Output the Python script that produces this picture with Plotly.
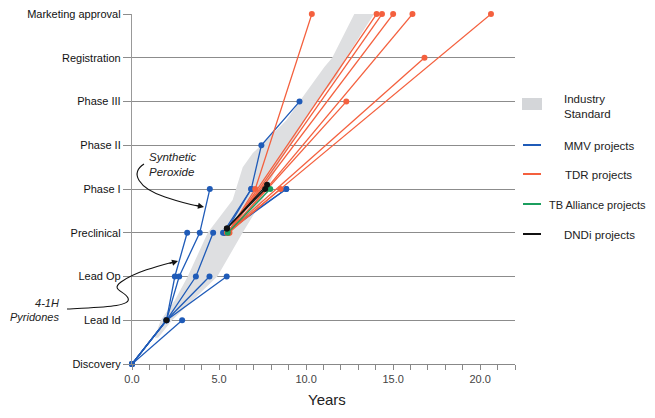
import plotly.graph_objects as go

# ---------------- data ----------------
stages = ["Discovery", "Lead Id", "Lead Op", "Preclinical", "Phase I",
          "Phase II", "Phase III", "Registration", "Marketing approval"]
x_tick_vals = list(range(0, 23))
x_tick_text = ["0.0" if v == 0 else (f"{v:.1f}" if v % 5 == 0 else "") for v in x_tick_vals]

# Industry standard band (years, stage level)
band_x = [1.3, 1.65, 2.46, 3.2, 4.35, 5.78, 6.36, 6.93, 7.9, 8.88, 9.62, 11.05, 11.5, 12.77,
          13.9, 12.3, 11.74, 10.6, 8.3, 7.5, 6.35, 4.9, 2.3, 1.5]
band_y = [0.6, 1.0, 1.46, 2.0, 3.0, 3.75, 4.5, 4.82, 5.19, 5.58, 6.0, 6.79, 7.0, 8.0,
          8.0, 7.0, 6.56, 6.0, 4.5, 3.75, 3.0, 2.0, 1.0, 0.6]

# MMV projects
mmv_x = [[0, 1.98, 2.46, 3.17],
         [0, 1.98, 2.71, 3.89, 4.47],
         [0, 1.98, 3.67, 4.66],
         [0, 1.98, 4.45],
         [0, 1.98, 5.44],
         [0, 2.88],
         [5.23, 6.85, 7.43, 9.62],
         [5.35, 6.85],
         [5.4, 8.86],
         [5.3, 8.86]]
mmv_y = [[0, 1, 2, 3],
         [0, 1, 2, 3, 4],
         [0, 1, 2, 3],
         [0, 1, 2],
         [0, 1, 2],
         [0, 1],
         [3, 4, 5, 6],
         [3, 4],
         [3, 4],
         [3, 4]]

# TDR projects
tdr_x = [[5.5, 7.08, 10.33],
         [5.55, 8.53],
         [5.5, 12.31],
         [5.45, 16.8],
         [5.5, 14.05],
         [5.55, 14.36],
         [5.5, 15.0],
         [5.6, 16.11],
         [5.5, 20.62]]
tdr_y = [[3, 4, 8],
         [3, 4],
         [3, 6],
         [3, 7],
         [3, 8],
         [3, 8],
         [3, 8],
         [3, 8],
         [3, 8]]

# TB Alliance projects
tb_x = [[5.5, 7.94]]
tb_y = [[3, 4]]

# DNDi projects
dndi_x = [[5.45, 7.65], [5.45, 7.76], [1.98]]
dndi_y = [[3.1, 4], [3.1, 4.1], [1]]

# ---------------- style ----------------
C_BLUE = "#1f5bb8"
C_RED = "#f4603e"
C_GREEN = "#1b9e5e"
C_BLACK = "#111111"
C_BAND = "#dedfe1"
C_GRID = "#8c8c8c"
FONT = "Liberation Sans, Arial, sans-serif"

# page body has an 8px margin -> figure drawn offset by (8, 8)
OFF = 8
W, H = 655 - 2 * OFF, 418 - 2 * OFF
PX0, PX1 = 132, 515      # plot area on screen (x)
PY0, PY1 = 14, 364       # plot area on screen (y)
L = PX0 - OFF
T = PY0 - OFF
R = W - (PX1 - OFF)
B = H - (PY1 - OFF)
PW, PH = PX1 - PX0, PY1 - PY0


def P(px, py):
    """screen pixel position -> paper coordinates"""
    return (px - PX0) / PW, (PY1 - py) / PH


fig = go.Figure()

fig.add_trace(go.Scatter(x=band_x, y=band_y, fill="toself", fillcolor=C_BAND,
                         line=dict(width=0), mode="lines", hoverinfo="skip",
                         showlegend=False))


def add_group(xs, ys, color):
    for xx, yy in zip(xs, ys):
        fig.add_trace(go.Scatter(x=xx, y=yy, mode="lines+markers",
                                 line=dict(color=color, width=1.3),
                                 marker=dict(color=color, size=6),
                                 cliponaxis=False, showlegend=False))


add_group(mmv_x, mmv_y, C_BLUE)
add_group(tdr_x, tdr_y, C_RED)
add_group(tb_x, tb_y, C_GREEN)
add_group(dndi_x, dndi_y, C_BLACK)

shapes = []
annotations = []

# legend
x0, _ = P(522, 0)
x1, _ = P(542, 0)
_, y0 = P(0, 110)
_, y1 = P(0, 98)
shapes.append(dict(type="rect", xref="paper", yref="paper", x0=x0, x1=x1, y0=y0, y1=y1,
                   fillcolor="#d4d6d9", line=dict(width=0)))
ax_, ay_ = P(562, 106)
annotations.append(dict(xref="paper", yref="paper", x=ax_, y=ay_, text="Industry<br>Standard",
                        showarrow=False, xanchor="left", yanchor="middle", align="left",
                        font=dict(family=FONT, size=11.5, color="#222")))
legend_items = [("MMV projects", C_BLUE, 145, 562, 11.5),
                ("TDR projects", C_RED, 174, 563, 11.5),
                ("TB Alliance projects", C_GREEN, 204, 547, 11),
                ("DNDi projects", C_BLACK, 234, 562, 11.5)]
for name, col, py, tx, fs in legend_items:
    lx0, ly = P(523, py)
    lx1, _ = P(541, py)
    shapes.append(dict(type="line", xref="paper", yref="paper", x0=lx0, x1=lx1, y0=ly, y1=ly,
                       line=dict(color=col, width=2)))
    tx_, ty_ = P(tx, py + 1)
    annotations.append(dict(xref="paper", yref="paper", x=tx_, y=ty_, text=name,
                            showarrow=False, xanchor="left", yanchor="middle",
                            font=dict(family=FONT, size=fs, color="#222")))

# text annotations
sx, sy = P(147, 164)
annotations.append(dict(xref="paper", yref="paper", x=sx, y=sy, text="<i>Synthetic<br>Peroxide</i>",
                        showarrow=False, xanchor="left", yanchor="middle", align="left",
                        font=dict(family=FONT, size=11.5, color="#222")))
px_, py_ = P(61, 309.5)
annotations.append(dict(xref="paper", yref="paper", x=px_, y=py_, text="<i>4-1H<br>Pyridones</i>",
                        showarrow=False, xanchor="right", yanchor="middle", align="right",
                        font=dict(family=FONT, size=11, color="#222")))
yx, yy = P(327, 400)
annotations.append(dict(xref="paper", yref="paper", x=yx, y=yy, text="Years",
                        showarrow=False, xanchor="center", yanchor="middle",
                        font=dict(family=FONT, size=15, color="#222")))


def path_str(cmds):
    out = []
    for c in cmds:
        if isinstance(c, str):
            out.append(c)
        else:
            a, b = P(*c)
            out.append(f"{a:.5f},{b:.5f}")
    return " ".join(out)


peroxide_path = path_str(["M", (144, 164), "C", (130, 173), (138, 188), (165, 197),
                          "C", (180, 202), (192, 205), (200, 206.5)])
pyridone_path = path_str(["M", (67, 309), "C", (100, 307), (132, 307), (128, 298),
                          "C", (125, 291), (110, 290), (121, 282),
                          "C", (135, 272), (158, 266), (175, 261.5)])
for pth in (peroxide_path, pyridone_path):
    shapes.append(dict(type="path", xref="paper", yref="paper", path=pth,
                       line=dict(color="#111", width=1.1)))

for hx, hy, dx, dy in [(204, 207, -10, -2), (178, 261, -10, 3)]:
    ex, ey = P(hx, hy)
    annotations.append(dict(xref="paper", yref="paper", x=ex, y=ey, ax=dx, ay=dy, text="",
                            showarrow=True, arrowhead=2, arrowsize=1.1, arrowwidth=1.1,
                            arrowcolor="#111", standoff=0))

fig.update_layout(
    width=W, height=H, margin=dict(l=L, r=R, t=T, b=B, autoexpand=False),
    paper_bgcolor="white", plot_bgcolor="white",
    font=dict(family=FONT),
    shapes=shapes, annotations=annotations, showlegend=False,
    xaxis=dict(range=[0, 22], tickvals=x_tick_vals, ticktext=x_tick_text, automargin=False,
               ticks="outside", ticklen=5, tickcolor="#888", showgrid=False, zeroline=False,
               showline=True, linecolor="#888", linewidth=1.2,
               tickfont=dict(family=FONT, size=11, color="#444")),
    yaxis=dict(range=[0, 8.002], tickvals=list(range(len(stages))), ticktext=stages,
               automargin=False, ticklabeloverflow="allow",
               ticks="outside", ticklen=8, tickcolor=C_GRID, showgrid=True, gridcolor=C_GRID,
               gridwidth=1.3, zeroline=False, showline=True, linecolor="#999", linewidth=1.2,
               tickfont=dict(family=FONT, size=11, color="#111")),
)

fig.write_html("out.html")
